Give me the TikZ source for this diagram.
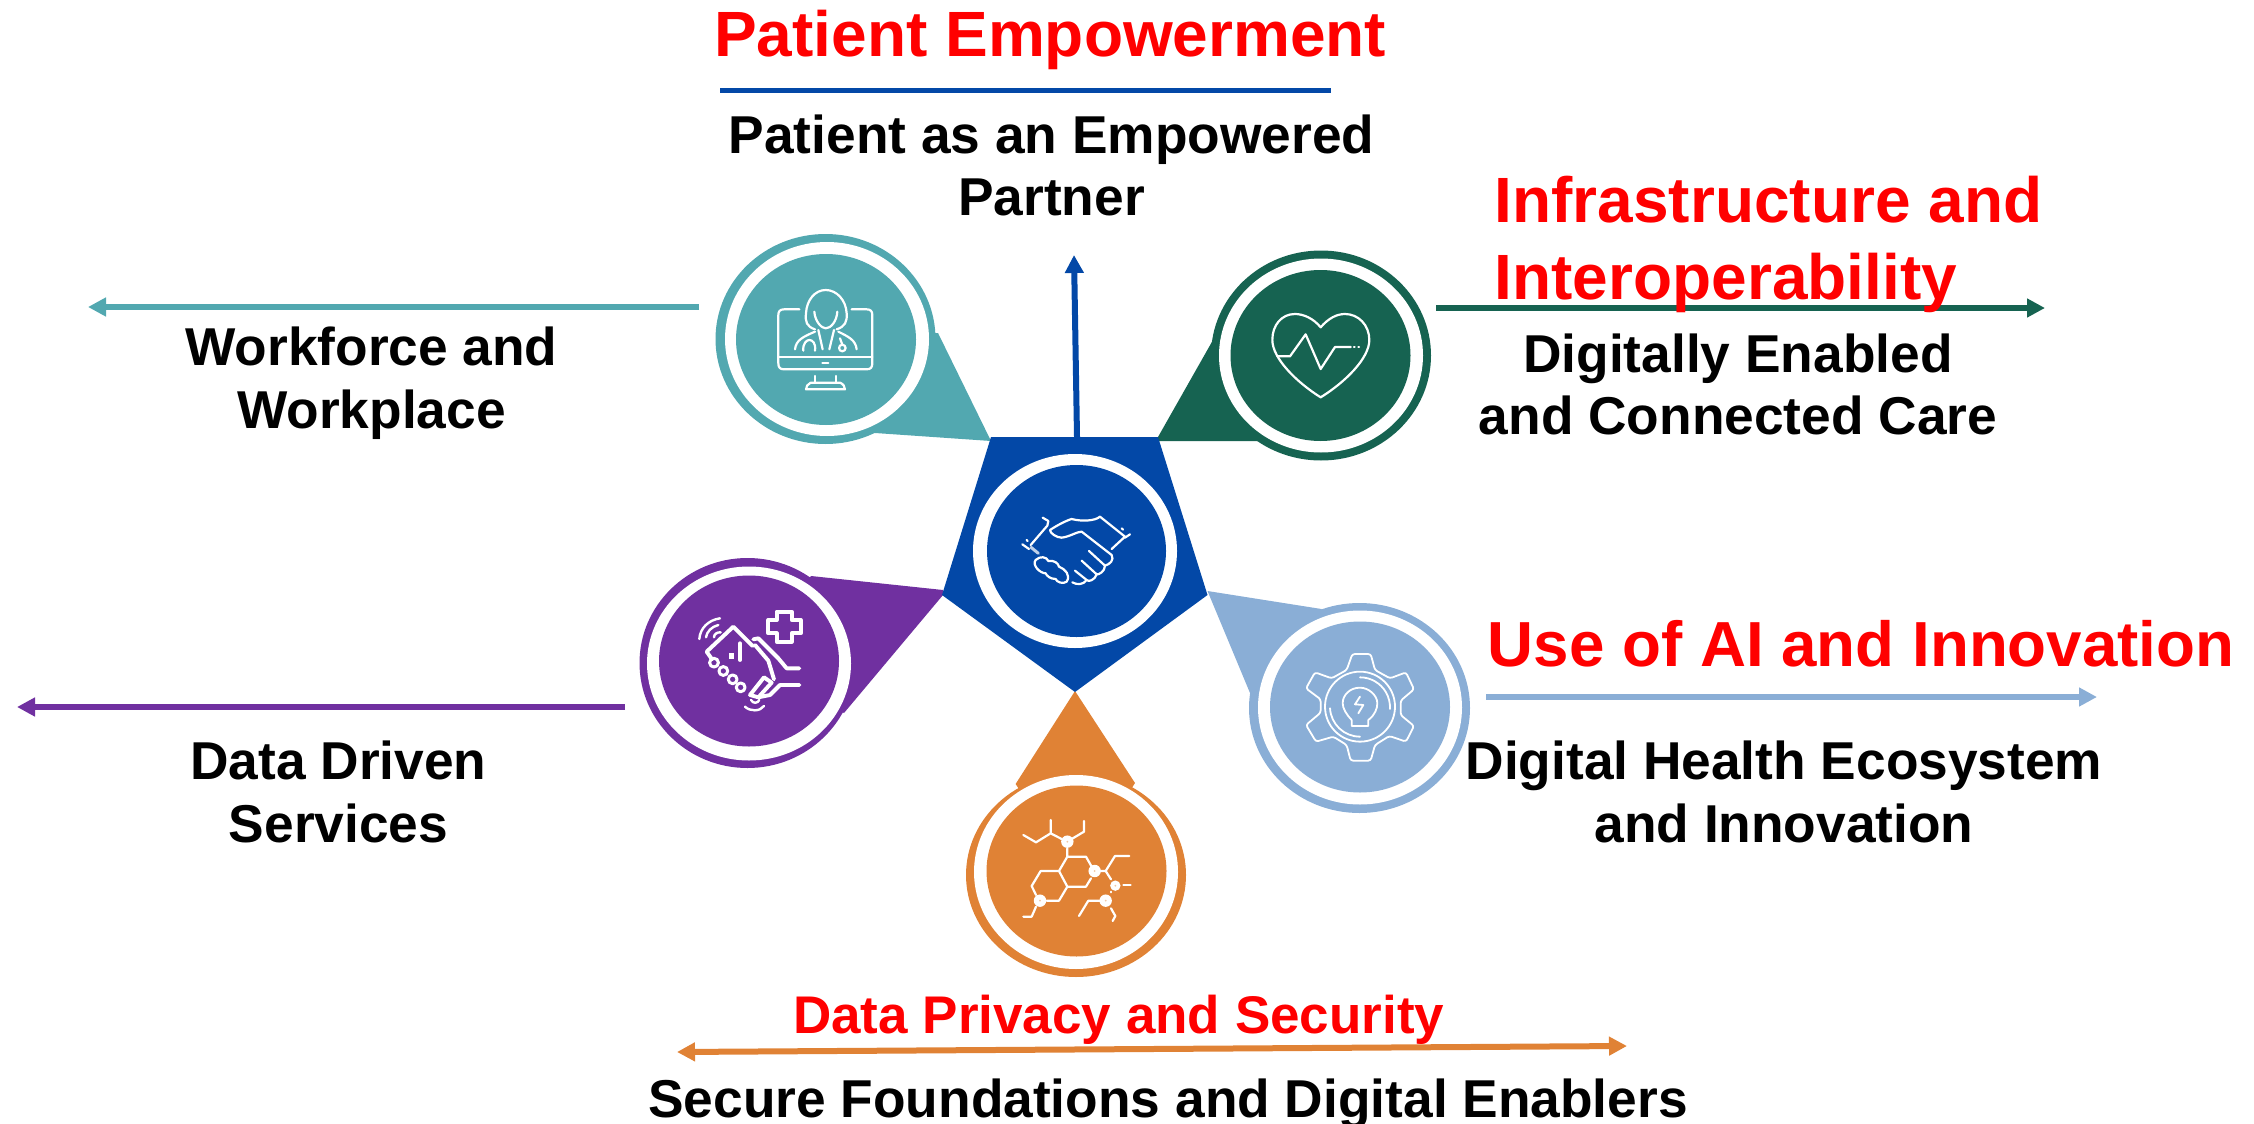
\documentclass[tikz,border=0pt]{standalone}
\usepackage{fontspec}
\setmainfont{Liberation Sans}
\usetikzlibrary{arrows.meta}
\definecolor{cteal}{HTML}{52A8B0}
\definecolor{cgreen}{HTML}{166351}
\definecolor{cblue}{HTML}{0348A7}
\definecolor{clight}{HTML}{8AAED6}
\definecolor{corange}{HTML}{E08235}
\definecolor{cpurple}{HTML}{7030A0}
\tikzset{
 redtxt/.style={anchor=base west,inner sep=0pt,text=red,font=\bfseries\fontsize{#1}{#1}\selectfont},
 blacktxt/.style={anchor=base,inner sep=0pt,text=black,font=\bfseries\fontsize{53.3}{53.3}\selectfont},
 arrowline/.style={line width=6pt,-{Triangle[length=18pt,width=18pt]}},
 iconline/.style={draw=white,line width=2.2pt,line join=round,line cap=round},
 iconthick/.style={draw=white,line width=3.9pt,line join=round,line cap=round},
 iconscope/.style={x=0.3333pt,y=-0.3333pt},
}
\newcommand{\badge}[9]{%
 \fill[#1] (#2,#3) ellipse [x radius=#9pt,y radius=#8pt];
 \fill[white] (#4,#5) ellipse [x radius=102pt,y radius=97pt];
 \fill[#1] (#6,#7) ellipse [x radius=90pt,y radius=85.5pt];
}
\newcommand{\molnode}[3]{\fill[white] (#1,#2) circle (#3); \fill[corange!45!white] (#1,#2) circle (3);}
\begin{document}
\begin{tikzpicture}[x=1pt,y=-1pt]
\useasboundingbox (0,0) rectangle (2254,1124);
% tails
\fill[cteal] (938,333) -- (991,441) -- (875,433) -- (825,339) -- cycle;
\fill[cgreen] (1213,340) -- (1158,437) -- (1158,441) -- (1260,441) -- (1321,355) -- cycle;
\fill[cpurple] (811,576) -- (943,590) -- (943,595) -- (844,713) -- (749,663) -- cycle;
\fill[clight] (1207.5,591) -- (1321.5,609) -- (1360,707) -- (1250,693) -- cycle;
\fill[corange] (1075,691) -- (1135,783) -- (1076,875) -- (1015.6,784) -- cycle;
% pentagon
\fill[cblue] (991,437) -- (1158,437) -- (1207.5,595) -- (1075,692) -- (942,595) -- cycle;
% badges
\badge{cteal}{825.5}{339}{827}{339}{826}{339.5}{105}{110}
\badge{cgreen}{1321}{355.5}{1321}{355.5}{1320.5}{355.5}{105}{110}
\badge{cpurple}{747.5}{663}{749}{663.5}{749}{661}{105}{108}
\badge{clight}{1359.5}{708}{1360}{707.5}{1360}{707}{105}{110.5}
\badge{corange}{1076}{875}{1076}{872}{1076.5}{871}{102}{110}
\fill[white] (1075,551) ellipse [x radius=102pt,y radius=97pt];
\fill[cblue] (1076.5,551) ellipse [x radius=89.5pt,y radius=86pt];
% icons: doctor
\begin{scope}[shift={(760,280)},iconscope]
\draw[iconline] (118,88) -- (72,88) .. controls (60,88) and (55,94) .. (55,105) -- (55,250) .. controls (55,262) and (60,268) .. (72,268) -- (320,268) .. controls (332,268) and (337,262) .. (337,250) -- (337,105) .. controls (337,94) and (332,88) .. (320,88) -- (275,88);
\draw[iconline] (55,230) -- (337,230);
\draw[iconline] (187,248) -- (205,248);
\draw[iconline] (165,288) -- (165,308) (228,288) -- (228,308);
\draw[iconline] (152,308) -- (240,308) .. controls (250,312) and (255,320) .. (255,328) -- (138,328) .. controls (138,320) and (143,312) .. (152,308);
\draw[iconline] (165,148) .. controls (140,140) and (135,125) .. (138,100) .. controls (140,60) and (165,30) .. (197,30) .. controls (230,30) and (258,60) .. (260,100) .. controls (262,125) and (255,140) .. (230,148);
\draw[iconline] (163,95) .. controls (165,125) and (185,145) .. (197,145) .. controls (212,145) and (230,125) .. (232,95);
\draw[iconline] (175,150) -- (188,208) (222,150) -- (208,208);
\draw[iconline] (105,208) .. controls (108,180) and (130,170) .. (165,155) (290,208) .. controls (287,180) and (265,170) .. (235,155);
\draw[iconline] (130,212) .. controls (128,190) and (140,180) .. (148,180) .. controls (158,180) and (168,190) .. (165,212);
\draw[iconline] (240,175) -- (247,194);
\draw[iconline] (247,204) circle [radius=3.3pt];
\end{scope}
% icons: heart
\begin{scope}[shift={(1260,295)},iconscope]
\draw[iconline] (182,97) .. controls (160,70) and (130,57) .. (105,57) .. controls (65,57) and (37,90) .. (37,135) .. controls (37,190) and (110,262) .. (182,307) .. controls (255,262) and (328,190) .. (328,135) .. controls (328,90) and (295,57) .. (255,57) .. controls (230,57) and (205,70) .. (182,97) -- cycle;
\draw[iconline] (52,184) -- (90,184) -- (137,118) -- (182,222) -- (225,156) -- (272,156);
\draw[iconline] (282,156) -- (284,156) (295,156) -- (297,156);
\end{scope}
% icons: handshake
\begin{scope}[shift={(1015,505)},iconscope]
\draw[iconline] (83,38) -- (100,48) -- (97,62) -- (47,120);
\draw[iconline] (22,118) -- (42,132) (35,105) -- (38,108);
\draw[line width=3pt,white!75!cblue,line cap=round] (48,127) -- (70,145);
\draw[iconline] (255,35) -- (330,95) -- (290,132);
\draw[iconline] (320,70) -- (324,74) (345,88) -- (330,98);
\draw[iconline] (255,35) .. controls (240,48) and (200,50) .. (170,42) .. controls (150,48) and (125,62) .. (105,75) .. controls (105,85) and (125,98) .. (140,98) .. controls (165,95) and (185,80) .. (200,80) -- (290,150) .. controls (298,165) and (285,178) .. (270,182) .. controls (270,200) and (250,210) .. (245,208) .. controls (240,225) and (220,232) .. (215,225) .. controls (205,240) and (185,240) .. (172,232);
\draw[iconline] (222,138) -- (270,182) (200,167) -- (245,208) (180,197) -- (215,225);
\draw[iconline] (62,165) .. controls (75,152) and (95,155) .. (100,168) .. controls (118,165) and (130,175) .. (132,185) .. controls (150,192) and (168,210) .. (155,230) .. controls (145,238) and (125,232) .. (122,222) .. controls (105,222) and (95,212) .. (92,205) .. controls (75,205) and (50,180) .. (62,165) -- cycle;
\end{scope}
% icons: phone in hand
\begin{scope}[shift={(690,600)},iconscope]
\draw[iconthick] (260,35) -- (305,35) -- (305,60) -- (332,60) -- (332,100) -- (305,100) -- (305,125) -- (260,125) -- (260,100) -- (235,100) -- (235,60) -- (260,60) -- cycle;
\draw[iconline,line width=2.4pt] (28,117) .. controls (30,85) and (55,60) .. (90,55) (48,112) .. controls (50,95) and (65,80) .. (85,75) (72,112) .. controls (72,102) and (82,96) .. (92,97);
\draw[iconthick] (188,138) -- (130,80) -- (50,155) -- (66,178);
\draw[iconthick] (150,130) -- (150,180);
\fill[white] (117,158) rectangle (132,178);
\draw[iconthick] (190,118) -- (205,115) -- (265,175) -- (290,205) -- (328,205);
\draw[iconthick] (195,135) -- (235,182) -- (252,238);
\draw[iconthick] (328,255) -- (270,255) -- (240,285) -- (205,292) -- (180,285) -- (222,232) -- (245,248) -- (205,292);
\draw[iconline,line width=2.4pt] (165,320) .. controls (180,335) and (210,335) .. (222,318) (183,300) .. controls (190,312) and (203,310) .. (208,300);
\foreach \mx/\my in {72/188, 100/213, 128/238, 152/262}
 \draw[iconline,line width=3pt] (\mx,\my) circle [radius=4.4pt];
\end{scope}
% icons: gear
\begin{scope}[shift={(1300,640)},iconscope]
\draw[iconline,line width=1.8pt,rounded corners=2.5pt] (157,42) -- (212,42) -- (225,90) -- (270,115) -- (318,97) -- (342,148) -- (302,182) -- (302,225) -- (342,258) -- (318,305) -- (268,288) -- (225,315) -- (212,362) -- (152,362) -- (140,315) -- (100,290) -- (48,305) -- (18,255) -- (62,218) -- (62,178) -- (18,145) -- (45,97) -- (95,115) -- (140,90) -- cycle;
\draw[iconline,line width=1.8pt] (180,200) circle [radius=35pt];
\draw[iconline,line width=1.8pt] (180,112) arc [start angle=90,end angle=-3,radius=30pt];
\draw[iconline,line width=1.8pt] (180,290) arc [start angle=-90,end angle=-177,radius=30pt];
\draw[iconline,line width=1.8pt] (155,258) -- (205,258) -- (205,240) .. controls (225,225) and (232,205) .. (232,190) .. controls (232,165) and (205,143) .. (180,143) .. controls (150,143) and (128,165) .. (128,190) .. controls (128,205) and (140,225) .. (155,240) -- cycle;
\draw[iconline,line width=1.8pt] (180,170) -- (165,193) -- (190,195) -- (175,220);
\end{scope}
% icons: molecule
\begin{scope}[shift={(1010,810)},iconscope]
\draw[iconline] (40,75) -- (78,97) -- (122,70) -- (122,30) (122,70) -- (155,87) (185,87) -- (222,65) -- (222,33);
\draw[iconline] (172,115) -- (172,140) -- (228,140) -- (245,170) (172,140) -- (147,183) -- (92,183) -- (65,228) -- (78,255) (147,183) -- (172,230) -- (228,230) -- (243,205) (172,230) -- (147,272) -- (110,272);
\draw[iconline] (78,290) -- (65,320) -- (40,320);
\draw[iconline] (272,183) -- (287,183) -- (315,138) -- (358,138) (287,183) -- (303,208);
\draw[iconline] (340,225) -- (362,225) (303,245) -- (303,247);
\draw[iconline] (270,272) -- (235,272) -- (207,318) (303,295) -- (316,318) -- (308,333);
\molnode{172}{95}{6.2pt}
\molnode{254}{183}{6.2pt}
\molnode{90}{272}{6.2pt}
\molnode{316}{227}{5.2pt}
\molnode{287}{272}{6.2pt}
\end{scope}
% connectors
\coordinate (blueS) at (1077,437);
\coordinate (blueE) at (1074,255);
\coordinate (titleL) at (720,90.5);
\coordinate (titleR) at (1331,90.5);
\coordinate (tealS) at (699,307);
\coordinate (tealE) at (88,307);
\coordinate (greenS) at (1436,308);
\coordinate (greenE) at (2045,308);
\coordinate (purpleS) at (625,707);
\coordinate (purpleE) at (17,707);
\coordinate (lightS) at (1486,697);
\coordinate (lightE) at (2097,697);
\coordinate (orangeL) at (677,1052);
\coordinate (orangeR) at (1627,1046);
\draw[cblue,line width=5pt] (titleL) -- (titleR);
\draw[cblue,arrowline] (blueS) -- (blueE);
\draw[cteal,arrowline] (tealS) -- (tealE);
\draw[cgreen,arrowline] (greenS) -- (greenE);
\draw[cpurple,arrowline] (purpleS) -- (purpleE);
\draw[clight,arrowline] (lightS) -- (lightE);
\draw[corange,line width=6pt,{Triangle[length=18pt,width=18pt]}-{Triangle[length=18pt,width=18pt]}] (orangeL) -- (orangeR);
% text
\node[redtxt=64] (t1) at (714,57) {Patient Empowerment};
\node[blacktxt] (t2) at (1051.5,153) {Patient as an Empowered};
\node[blacktxt] (t3) at (1051.5,215.5) {Partner};
\node[redtxt=64] (t4) at (1494.5,222) {Infrastructure and};
\node[redtxt=64] (t5) at (1494.5,299) {Interoperability};
\node[blacktxt] (t6) at (1738,372) {Digitally Enabled};
\node[blacktxt] (t7) at (1738,434) {and Connected Care};
\node[redtxt=63.7] (t8) at (1487.5,666) {Use of AI and Innovation};
\node[blacktxt] (t9) at (1784,779) {Digital Health Ecosystem};
\node[blacktxt] (t10) at (1784,842) {and Innovation};
\node[blacktxt] (t11) at (371.5,365) {Workforce and};
\node[blacktxt] (t12) at (371.5,428) {Workplace};
\node[blacktxt] (t13) at (338.5,779) {Data Driven};
\node[blacktxt] (t14) at (338.5,842) {Services};
\node[redtxt=53] (t15) at (793,1033) {Data Privacy and Security};
\node[blacktxt] (t16) at (1168,1117) {Secure Foundations and Digital Enablers};
\end{tikzpicture}
\end{document}
